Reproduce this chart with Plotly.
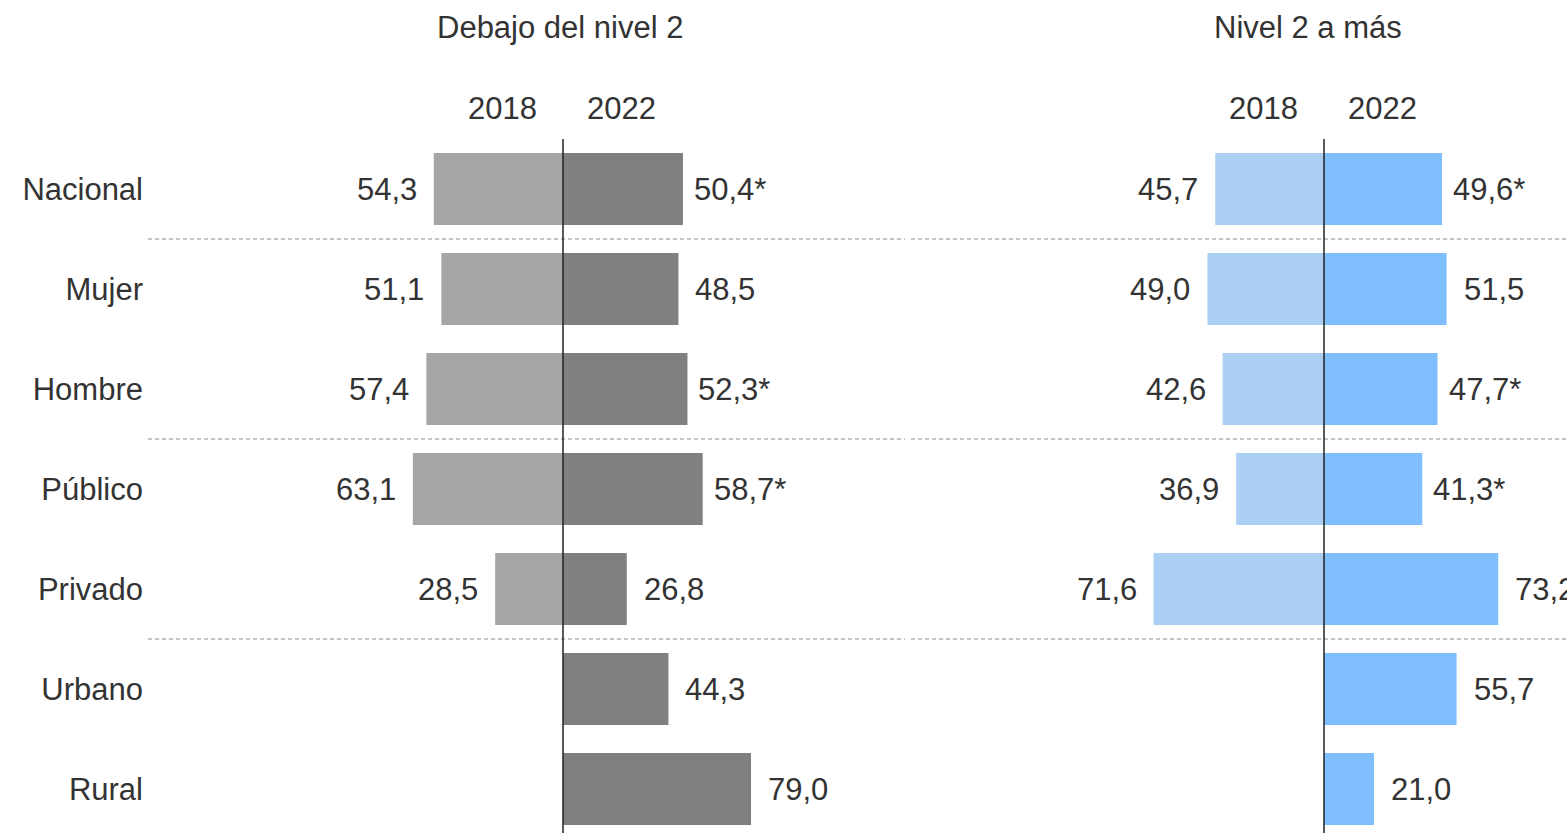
import plotly.graph_objects as go

categorias = ["Nacional", "Mujer", "Hombre", "Público", "Privado", "Urbano", "Rural"]

# Debajo del nivel 2
bajo_2018 = [54.3, 51.1, 57.4, 63.1, 28.5, None, None]
bajo_2022 = [50.4, 48.5, 52.3, 58.7, 26.8, 44.3, 79.0]
bajo_sig = [True, False, True, True, False, False, False]

# Nivel 2 a más
alto_2018 = [45.7, 49.0, 42.6, 36.9, 71.6, None, None]
alto_2022 = [49.6, 51.5, 47.7, 41.3, 73.2, 55.7, 21.0]
alto_sig = [True, False, True, True, False, False, False]

anios = ["2018", "2022"]
titulos = ["Debajo del nivel 2", "Nivel 2 a más"]

FONT = "Liberation Sans, Arial, sans-serif"
TXT = "#333333"
FS = 31

W, H = 1567, 833
top = 139

def fmt(v, sig=False):
    s = f"{v:.1f}".replace(".", ",")
    return s + ("*" if sig else "")

fig = go.Figure()

panels = [
    dict(v18=bajo_2018, v22=bajo_2022, sig=bajo_sig, c18="#a6a6a6", c22="#808080", xa="x", ya="y"),
    dict(v18=alto_2018, v22=alto_2022, sig=alto_sig, c18="#abd0f3", c22="#7fbffd", xa="x2", ya="y2"),
]

annotations = []
shapes = []
for p, titulo in zip(panels, titulos):
    fig.add_trace(go.Bar(
        y=categorias, x=[-v if v is not None else None for v in p["v18"]],
        orientation="h", marker=dict(color=p["c18"], line=dict(width=0)),
        width=0.72, xaxis=p["xa"], yaxis=p["ya"], showlegend=False, hoverinfo="skip"))
    fig.add_trace(go.Bar(
        y=categorias, x=p["v22"],
        orientation="h", marker=dict(color=p["c22"], line=dict(width=0)),
        width=0.72, xaxis=p["xa"], yaxis=p["ya"], showlegend=False, hoverinfo="skip"))
    for cat, v in zip(categorias, p["v18"]):
        if v is None:
            continue
        annotations.append(dict(x=-v, y=cat, xref=p["xa"], yref=p["ya"], text=fmt(v),
                                xanchor="right", yanchor="middle", xshift=-15, showarrow=False,
                                font=dict(family=FONT, size=FS, color=TXT)))
    for cat, v, s in zip(categorias, p["v22"], p["sig"]):
        annotations.append(dict(x=v, y=cat, xref=p["xa"], yref=p["ya"], text=fmt(v, s),
                                xanchor="left", yanchor="middle", xshift=(9 if s else 15), showarrow=False,
                                font=dict(family=FONT, size=FS, color=TXT)))
    # headers
    annotations.append(dict(x=0, y=(H - 108) / (H - top), xref=p["xa"], yref="paper", text=anios[0],
                            xanchor="right", yanchor="middle", xshift=-24, showarrow=False,
                            font=dict(family=FONT, size=FS, color=TXT)))
    annotations.append(dict(x=0, y=(H - 108) / (H - top), xref=p["xa"], yref="paper", text=anios[1],
                            xanchor="left", yanchor="middle", xshift=22, showarrow=False,
                            font=dict(family=FONT, size=FS, color=TXT)))
    annotations.append(dict(x=0, y=(H - 28) / (H - top), xref=p["xa"], yref="paper", text=titulo,
                            xanchor="center", yanchor="middle",
                            xshift=(-3 if p["xa"] == "x" else -16), showarrow=False,
                            font=dict(family=FONT, size=FS, color=TXT)))
    # separators
    xd = p["xa"] + " domain"
    for ysep in [0.5, 2.5, 4.5]:
        shapes.append(dict(type="line", xref=xd, yref=p["ya"], x0=0, x1=1, y0=ysep, y1=ysep,
                           line=dict(color="#8c8c8c", width=1.2, dash="4px,3px"), layer="below"))
    # center line
    shapes.append(dict(type="line", xref=p["xa"], yref=p["ya"] + " domain", x0=0, x1=0, y0=0, y1=1,
                       line=dict(color="#222222", width=1.5), layer="above"))

k = 2.38  # px per unit
left_dom = [148 / W, 905 / W]
right_dom = [911 / W, 1.0]
xr1 = [-(563 - 148) / k, (905 - 563) / k]
xr2 = [-(1324 - 911) / k, (W - 1324) / k]

yrange = [6.44, -0.5]

fig.update_layout(
    width=W, height=H,
    margin=dict(l=0, r=0, t=top, b=0, pad=0),
    paper_bgcolor="white", plot_bgcolor="white",
    barmode="overlay",
    font=dict(family=FONT, size=FS, color=TXT),
    xaxis=dict(domain=left_dom, range=xr1, showticklabels=False, showgrid=False, zeroline=False,
               showline=False, fixedrange=True),
    xaxis2=dict(domain=right_dom, range=xr2, showticklabels=False, showgrid=False, zeroline=False,
                showline=False, anchor="y2"),
    yaxis=dict(type="category", categoryorder="array", categoryarray=categorias, range=yrange,
               showgrid=False, zeroline=False, showline=False, ticks="", automargin=False,
               ticklabelstandoff=4, tickfont=dict(family=FONT, size=FS, color=TXT), anchor="x"),
    yaxis2=dict(type="category", categoryorder="array", categoryarray=categorias, range=yrange,
                showgrid=False, zeroline=False, showline=False, ticks="", showticklabels=False,
                automargin=False, anchor="x2"),
    annotations=annotations,
    shapes=shapes,
)

fig.write_html("out.html", config={"displayModeBar": False},
               post_script="document.body.style.margin='0';document.body.style.overflow='hidden';")
